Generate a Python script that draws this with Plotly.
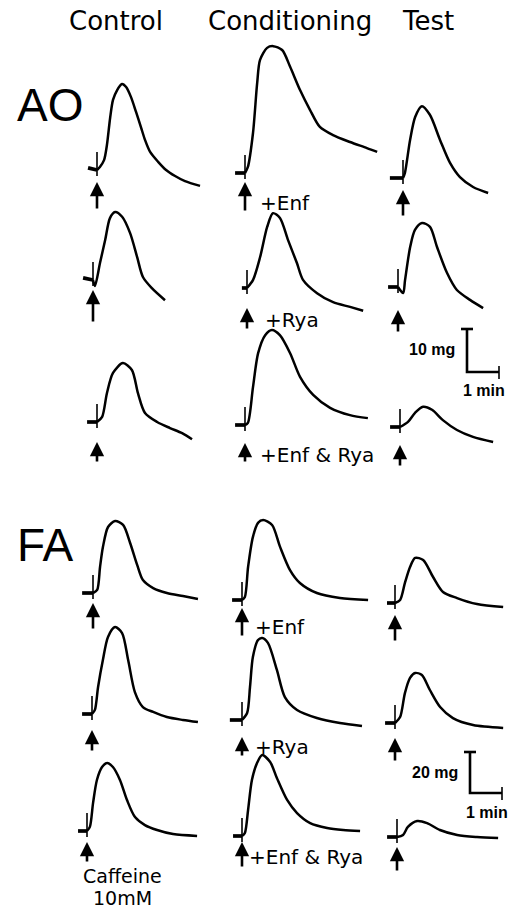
import plotly.graph_objects as go

W, H = 514, 911
PX_PER_MIN = 32.0
PX_PER_MG = {"AO": 4.3, "FA": 2.05}

# ---------------- data: time after caffeine (min), tension change (mg) ----------------
# AO row 1
AO1_CON_T = [-0.28, 0, 0.09, 0.22, 0.31, 0.41, 0.5, 0.63, 0.78, 0.91, 1.06, 1.22, 1.38, 1.5, 1.66, 1.91, 2.16, 2.44, 2.75, 3.22]
AO1_CON_F = [0.5, 0, 0.7, 2.3, 5.8, 12.1, 16.3, 18.6, 20.0, 19.3, 17.0, 13.5, 9.8, 7.0, 4.2, 1.9, 0.0, -1.4, -2.6, -3.7]
AO1_CND_T = [-0.31, 0, 0.09, 0.25, 0.38, 0.47, 0.69, 0.88, 1.16, 1.41, 1.72, 2.03, 2.34, 2.75, 3.28, 3.81, 4.13]
AO1_CND_F = [0.0, 0, 1.4, 9.3, 20.9, 26.3, 29.1, 29.5, 28.6, 24.7, 19.3, 14.7, 10.7, 8.8, 7.2, 5.8, 4.9]
AO1_TST_T = [-0.41, 0, 0.06, 0.22, 0.38, 0.59, 0.84, 1.16, 1.47, 1.78, 2.19, 2.66]
AO1_TST_F = [0.0, 0, 1.2, 8.8, 14.2, 16.7, 14.7, 8.8, 3.5, 0.2, -2.1, -3.5]
# AO row 2
AO2_CON_T = [-0.31, 0, 0.06, 0.22, 0.38, 0.53, 0.69, 0.91, 1.16, 1.38, 1.56, 1.84, 2.25]
AO2_CON_F = [0.5, 0, -1.4, 4.0, 9.3, 14.4, 15.8, 14.7, 10.9, 5.3, 0.7, -1.9, -4.7]
AO2_CND_T = [-0.16, 0, 0.19, 0.41, 0.63, 0.81, 1.03, 1.28, 1.56, 1.75, 2.19, 2.69, 3.22, 3.63]
AO2_CND_F = [0.0, 0, 1.9, 7.2, 14.2, 17.4, 16.3, 11.2, 5.8, 1.9, -1.2, -3.3, -4.4, -5.3]
AO2_TST_T = [-0.31, 0, 0.16, 0.22, 0.38, 0.53, 0.75, 1.0, 1.22, 1.53, 1.84, 2.25, 2.66]
AO2_TST_F = [0.0, 0, -1.4, 1.6, 9.3, 13.3, 14.9, 14.0, 9.3, 3.3, -0.7, -3.0, -4.9]
# AO row 3
AO3_CON_T = [-0.31, 0, 0.16, 0.31, 0.5, 0.81, 1.09, 1.28, 1.5, 1.88, 2.28, 2.66, 2.97]
AO3_CON_F = [0.0, 0, 1.2, 6.7, 11.4, 13.7, 12.1, 6.7, 2.1, 0.0, -1.4, -2.6, -4.0]
AO3_CND_T = [-0.31, 0, 0.09, 0.25, 0.41, 0.63, 0.84, 1.09, 1.41, 1.72, 2.13, 2.66, 3.28, 3.84]
AO3_CND_F = [0.0, 0, 0.5, 8.8, 16.7, 20.9, 22.1, 20.9, 16.7, 11.2, 7.0, 4.0, 2.3, 1.6]
AO3_TST_T = [-0.31, 0, 0.25, 0.47, 0.72, 1.0, 1.34, 1.78, 2.28, 2.91]
AO3_TST_F = [0.0, 0, 1.2, 3.3, 4.7, 4.0, 1.6, -0.7, -2.3, -3.5]
# FA row 1
FA1_CON_T = [-0.34, 0, 0.13, 0.22, 0.31, 0.47, 0.69, 0.94, 1.16, 1.38, 1.56, 1.88, 2.31, 2.81, 3.28]
FA1_CON_F = [0.0, 0, 1.5, 12.7, 22.4, 32.2, 35.1, 33.2, 24.4, 13.7, 6.3, 2.4, 0.0, -1.5, -2.9]
FA1_CND_T = [-0.31, 0, 0.09, 0.19, 0.34, 0.5, 0.66, 0.94, 1.19, 1.5, 1.81, 2.34, 3.06, 3.94]
FA1_CND_F = [0.0, 0, 1.5, 16.1, 30.7, 37.6, 39.0, 36.6, 25.9, 14.6, 8.3, 3.4, 1.0, 0.0]
FA1_TST_T = [-0.25, 0, 0.16, 0.31, 0.47, 0.63, 0.88, 1.19, 1.5, 1.94, 2.56, 3.38]
FA1_TST_F = [0.0, 0, 1.5, 9.8, 17.6, 22.0, 21.0, 12.7, 5.4, 2.4, -0.5, -2.0]
# FA row 2
FA2_CON_T = [-0.31, 0, 0.09, 0.19, 0.34, 0.5, 0.72, 0.94, 1.13, 1.34, 1.59, 1.91, 2.34, 2.84, 3.31]
FA2_CON_F = [0.0, 0, 2.0, 13.2, 26.3, 37.6, 42.4, 39.5, 26.3, 10.7, 3.4, 1.0, -1.5, -2.9, -3.9]
FA2_CND_T = [-0.38, 0, 0.16, 0.25, 0.34, 0.5, 0.63, 0.81, 1.09, 1.34, 1.72, 2.34, 3.06, 3.75]
FA2_CND_F = [0.0, 0, 3.4, 16.1, 30.7, 39.0, 40.0, 37.6, 24.4, 11.2, 4.9, 1.0, -1.5, -2.9]
FA2_TST_T = [-0.31, 0, 0.16, 0.31, 0.47, 0.63, 0.84, 1.09, 1.41, 1.81, 2.44, 3.38]
FA2_TST_F = [0.0, 0, 2.9, 14.6, 22.0, 24.4, 23.4, 16.1, 7.8, 2.4, -1.0, -2.4]
# FA row 3
FA3_CON_T = [-0.28, 0, 0.09, 0.19, 0.31, 0.47, 0.63, 0.81, 1.03, 1.25, 1.5, 1.81, 2.19, 2.69, 3.44]
FA3_CON_F = [0.0, 0, 2.0, 13.7, 24.9, 31.2, 33.2, 31.2, 24.9, 15.1, 6.8, 2.9, 0.5, -1.5, -2.4]
FA3_CND_T = [-0.28, 0, 0.09, 0.19, 0.31, 0.47, 0.63, 0.88, 1.09, 1.41, 1.72, 2.13, 2.66, 3.16, 3.69]
FA3_CND_F = [0.0, 0, 1.5, 12.7, 27.3, 35.6, 39.5, 36.1, 28.3, 17.6, 11.2, 6.3, 3.9, 2.9, 2.4]
FA3_TST_T = [-0.31, 0, 0.19, 0.34, 0.63, 0.94, 1.34, 1.88, 2.5, 3.16]
FA3_TST_F = [0.0, 0, 1.0, 4.9, 7.8, 6.8, 3.4, 1.0, 0.0, -0.5]

COLUMN_TITLES = ["Control", "Conditioning", "Test"]
GROUP_TITLES = ["AO", "FA"]
CONDITION_LABELS = ["+Enf", "+Rya", "+Enf & Rya", "+Enf", "+Rya", "+Enf & Rya"]
SCALE_MG = {"AO": 10, "FA": 20}
SCALE_MIN = 1
STIM_LABEL = ["Caffeine", "10mM"]

TRACES = [
    ("AO", AO1_CON_T, AO1_CON_F), ("AO", AO1_CND_T, AO1_CND_F), ("AO", AO1_TST_T, AO1_TST_F),
    ("AO", AO2_CON_T, AO2_CON_F), ("AO", AO2_CND_T, AO2_CND_F), ("AO", AO2_TST_T, AO2_TST_F),
    ("AO", AO3_CON_T, AO3_CON_F), ("AO", AO3_CND_T, AO3_CND_F), ("AO", AO3_TST_T, AO3_TST_F),
    ("FA", FA1_CON_T, FA1_CON_F), ("FA", FA1_CND_T, FA1_CND_F), ("FA", FA1_TST_T, FA1_TST_F),
    ("FA", FA2_CON_T, FA2_CON_F), ("FA", FA2_CND_T, FA2_CND_F), ("FA", FA2_TST_T, FA2_TST_F),
    ("FA", FA3_CON_T, FA3_CON_F), ("FA", FA3_CND_T, FA3_CND_F), ("FA", FA3_TST_T, FA3_TST_F),
]

# ---------------- layout (pixel positions of each panel's stimulus point) ----------------
PANEL_ORIGIN = [
    (97, 170), (245, 173), (403, 178),
    (93, 280), (247, 288), (398, 287),
    (97, 422), (245, 425), (400, 427),
    (93, 593), (242, 600), (395, 603),
    (92, 714), (242, 720), (395, 723),
    (87, 831), (242, 836), (397, 837),
]
# arrow tip / tail distance below baseline (px)
ARROW_PX = [
    (12, 40), (9, 39), (12, 39),
    (10, 43), (20, 42), (23, 46),
    (20, 41), (18, 38), (18, 40),
    (10, 37), (8, 37), (12, 39),
    (16, 38), (17, 37), (15, 39),
    (11, 32), (6, 32), (10, 35),
]
LABEL_POS = [(258, 203), (263, 320), (258, 455), (253, 627), (253, 747), (247, 857)]
SCALE_CORNER = {"AO": (467, 372), "FA": (470, 793)}
TICK_UP_PX, TICK_DN_PX = 18, 6
LW = 2.5
INK = "black"

fig = go.Figure()
layout_axes = {}
annotations = []


def add_axes(idx, ox, oy, k):
    xs = "xaxis" if idx == 1 else f"xaxis{idx}"
    ys = "yaxis" if idx == 1 else f"yaxis{idx}"
    layout_axes[xs] = dict(domain=[0, 1], range=[-ox / PX_PER_MIN, (W - ox) / PX_PER_MIN],
                           visible=False, fixedrange=True)
    layout_axes[ys] = dict(domain=[0, 1], range=[-(H - oy) / k, oy / k],
                           visible=False, fixedrange=True)
    return ("x" if idx == 1 else f"x{idx}"), ("y" if idx == 1 else f"y{idx}")


def line(xa, ya, x, y, shape="linear", width=LW):
    fig.add_trace(go.Scatter(x=x, y=y, xaxis=xa, yaxis=ya, mode="lines",
                             line=dict(color=INK, width=width, shape=shape, smoothing=0.8),
                             hoverinfo="skip", showlegend=False))


idx = 0
for i, (grp, t, f) in enumerate(TRACES):
    idx += 1
    ox, oy = PANEL_ORIGIN[i]
    k = PX_PER_MG[grp]
    xa, ya = add_axes(idx, ox, oy, k)
    # baseline stub
    line(xa, ya, t[:2], f[:2], width=LW + 1.2)
    # contraction trace
    line(xa, ya, t[1:], f[1:], shape="spline")
    # stimulus tick
    line(xa, ya, [0, 0], [TICK_UP_PX / k, -TICK_DN_PX / k], width=1.6)
    # arrow
    tip, tail = ARROW_PX[i]
    annotations.append(dict(xref=xa, yref=ya, x=0, y=-tip / k, ax=0, ay=tail - tip,
                            text="", showarrow=True, arrowhead=2, arrowsize=1.1,
                            arrowwidth=2.6, arrowcolor=INK, standoff=0))

# scale bars
for grp in ["AO", "FA"]:
    idx += 1
    cx, cy = SCALE_CORNER[grp]
    k = PX_PER_MG[grp]
    xa, ya = add_axes(idx, cx, cy, k)
    mg = SCALE_MG[grp]
    line(xa, ya, [0, 0, SCALE_MIN], [mg, 0, 0], width=2.6)
    line(xa, ya, [-6 / PX_PER_MIN, 6 / PX_PER_MIN], [mg, mg], width=2.6)
    line(xa, ya, [SCALE_MIN, SCALE_MIN], [6 / k, -7 / k], width=1.6)


def text(s, x, y, size, family="DejaVu Sans", xanchor="center", weight="normal"):
    annotations.append(dict(xref="paper", yref="paper", x=x / W, y=1 - y / H, text=s,
                            showarrow=False, xanchor=xanchor, yanchor="middle",
                            font=dict(family=family, size=size, color=INK, weight=weight)))


for s, cx in zip(COLUMN_TITLES, [116, 290, 428]):
    text(s, cx, 21, 26)
for s, (cx, cy) in zip(GROUP_TITLES, [(50, 105), (45, 545)]):
    text(s, cx, cy, 46, family="Liberation Sans")
for s, (lx, cy) in zip(CONDITION_LABELS, LABEL_POS):
    text(s, lx, cy, 20, xanchor="left")
text(f"{SCALE_MG['AO']} mg", 457, 349, 16, family="Liberation Sans", xanchor="right", weight="bold")
text(f"{SCALE_MIN} min", 484, 390, 16, family="Liberation Sans", weight="bold")
text(f"{SCALE_MG['FA']} mg", 460, 772, 16, family="Liberation Sans", xanchor="right", weight="bold")
text(f"{SCALE_MIN} min", 487, 812, 16, family="Liberation Sans", weight="bold")
text(STIM_LABEL[0], 122, 876, 19)
text(STIM_LABEL[1], 122, 898, 19)

fig.update_layout(width=W, height=H, margin=dict(l=0, r=0, t=0, b=0),
                  paper_bgcolor="white", plot_bgcolor="rgba(0,0,0,0)",
                  showlegend=False, annotations=annotations, **layout_axes)
fig.write_html("out.html", config={"displayModeBar": False},
               post_script="document.body.style.margin='0';document.body.style.overflow='hidden';")
